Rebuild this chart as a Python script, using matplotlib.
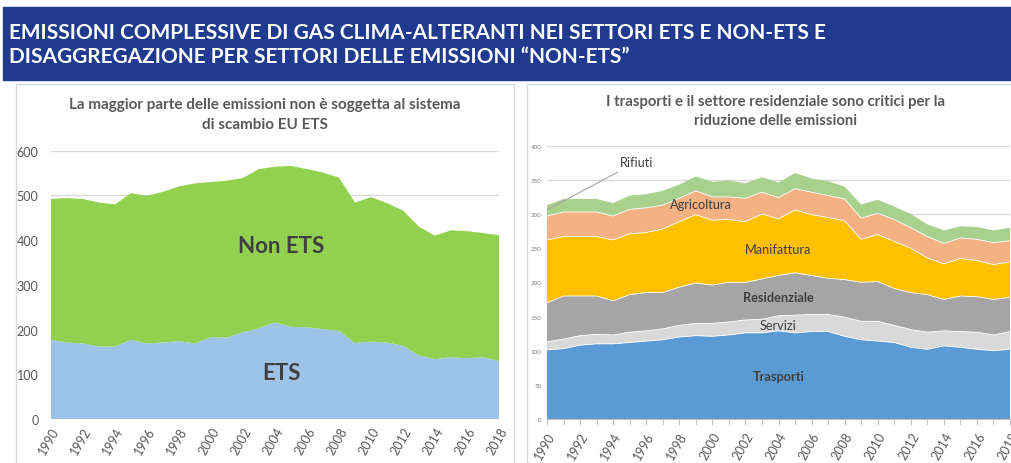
import numpy as np
import matplotlib.pyplot as plt
from matplotlib.patches import Rectangle

plt.rcParams['font.family'] = ['Lato', 'DejaVu Sans']

# --- Data ---
years = np.arange(1990, 2019)
year_ticks = np.arange(1990, 2019, 2)

# left panel: ETS vs non-ETS (Mt CO2eq)
ets = [177, 171, 169, 162, 162, 177, 169, 171, 174, 169, 183, 182, 194, 203, 216,
       206, 205, 201, 197, 170, 173, 171, 164, 142, 134, 138, 136, 138, 130]
non_ets = [315, 323, 323, 322, 318, 328, 330, 337, 346, 358, 347, 351, 345, 356, 348,
           360, 354, 350, 343, 314, 323, 312, 302, 288, 276, 284, 284, 278, 281]

# right panel: non-ETS by sector
sectors = ["Trasporti", "Servizi", "Residenziale", "Manifattura", "Agricoltura", "Rifiuti"]
trasporti = [101, 103, 108, 110, 110, 112, 114, 116, 120, 122, 121, 123, 126, 126, 129,
             126, 128, 128, 121, 116, 114, 112, 105, 102, 107, 105, 102, 100, 102]
servizi = [12, 14, 14, 14, 13, 15, 15, 16, 17, 18, 19, 19, 19, 20, 22,
           26, 25, 25, 28, 27, 29, 25, 26, 25, 22, 23, 25, 23, 26]
residenziale = [57, 63, 58, 56, 50, 55, 56, 53, 56, 59, 56, 58, 55, 59, 59,
                62, 57, 53, 55, 57, 58, 54, 54, 55, 46, 52, 52, 52, 50]
manifattura = [92, 87, 87, 87, 89, 89, 88, 93, 96, 100, 95, 92, 89, 95, 83,
               92, 89, 89, 86, 63, 69, 69, 65, 54, 52, 55, 53, 51, 52]
agricoltura = [35, 36, 36, 36, 35, 36, 36, 35, 34, 35, 34, 33, 34, 32, 31,
               31, 33, 32, 32, 31, 31, 32, 30, 31, 30, 30, 31, 32, 31]
rifiuti = [16, 19, 19, 19, 19, 20, 20, 21, 20, 21, 22, 24, 22, 22, 22,
           23, 20, 21, 18, 20, 20, 19, 20, 18, 19, 17, 18, 18, 19]
sector_colors = ['#5b9bd5', '#d9d9d9', '#a5a5a5', '#ffc000', '#f4b183', '#a9d18e']

W, H = 1011, 464
fig = plt.figure(figsize=(W / 100, H / 100), dpi=100)

def fx(px):
    return px / W

def fy(py):
    return 1 - py / H

# header banner
fig.patches.append(Rectangle((fx(3), fy(81)), 1 - fx(3), (81 - 8) / H,
                             transform=fig.transFigure, color='#203a90', zorder=-1))
fig.text(fx(9), fy(33), "EMISSIONI COMPLESSIVE DI GAS CLIMA-ALTERANTI NEI SETTORI ETS E NON-ETS E",
         color='white', fontsize=15, fontweight='bold', va='center', ha='left')
fig.text(fx(9), fy(57), "DISAGGREGAZIONE PER SETTORI DELLE EMISSIONI \u201cNON-ETS\u201d",
         color='white', fontsize=15, fontweight='bold', va='center', ha='left')

# panel frames
for x0, x1 in [(16, 514), (527, 1015)]:
    fig.patches.append(Rectangle((fx(x0), fy(470)), fx(x1 - x0), (470 - 85) / H,
                                 transform=fig.transFigure, facecolor='white',
                                 edgecolor='#d9d9d9', lw=1, zorder=-1))

fig.text(fx(265), fy(105), "La maggior parte delle emissioni non è soggetta al sistema",
         ha='center', va='center', fontsize=11, fontweight='bold', color='#595959')
fig.text(fx(265), fy(125), "di scambio EU ETS",
         ha='center', va='center', fontsize=11, fontweight='bold', color='#595959')
fig.text(fx(776), fy(102), "I trasporti e il settore residenziale sono critici per la",
         ha='center', va='center', fontsize=10.7, fontweight='bold', color='#595959')
fig.text(fx(776), fy(121), "riduzione delle emissioni",
         ha='center', va='center', fontsize=10.7, fontweight='bold', color='#595959')

# --- left chart ---
ax1 = fig.add_axes([fx(51), 1 - 420 / H, fx(448), (420 - 151.7) / H])
ax1.stackplot(years, ets, non_ets, colors=['#9dc3e6', '#92d050'], lw=0)
ax1.set_xlim(1990, 2018)
ax1.set_ylim(0, 600)
ax1.set_yticks(range(0, 601, 100))
ax1.set_xticks(year_ticks)
ax1.grid(axis='y', color='#d9d9d9', lw=1)
ax1.set_axisbelow(True)
for s in ax1.spines.values():
    s.set_visible(False)
ax1.tick_params(axis='y', length=0, pad=9, labelsize=9, labelcolor='#595959')
ax1.tick_params(axis='x', length=0, pad=4, labelsize=9, labelcolor='#595959')
plt.setp(ax1.get_xticklabels(), rotation=60, ha='right', rotation_mode='anchor')
ax1.text(2004.4, 388, "Non ETS", ha='center', va='center', fontsize=16,
         fontweight='bold', color='#404040')
ax1.text(2004.4, 105, "ETS", ha='center', va='center', fontsize=16,
         fontweight='bold', color='#404040')

# --- right chart ---
ax2 = fig.add_axes([fx(547), 1 - 420 / H, fx(463), (420 - 146.7) / H])
layers = [trasporti, servizi, residenziale, manifattura, agricoltura, rifiuti]
ax2.stackplot(years, *layers, colors=sector_colors, lw=0)
tops = np.cumsum(np.array(layers), axis=0)
for t in tops[:-1]:
    ax2.plot(years, t, color='white', lw=0.6)
ax2.set_xlim(1990, 2018)
ax2.set_ylim(0, 400)
ax2.set_yticks(range(0, 401, 50))
ax2.set_xticks(years, minor=True)
ax2.set_xticks(year_ticks)
ax2.grid(axis='y', color='#d9d9d9', lw=1)
ax2.set_axisbelow(True)
for k, s in ax2.spines.items():
    s.set_visible(k == 'bottom')
ax2.spines['bottom'].set_color('#bfbfbf')
ax2.tick_params(axis='y', length=0, pad=4, labelsize=4.5, labelcolor='#7f7f7f')
ax2.tick_params(axis='x', which='both', length=4, color='#bfbfbf', pad=4,
                labelsize=9, labelcolor='#595959')
plt.setp(ax2.get_xticklabels(), rotation=60, ha='right', rotation_mode='anchor')

lab = dict(ha='center', va='center', fontsize=9.2, color='#404040')
ax2.annotate("Rifiuti", xy=(1990, 306), xytext=(1994.4, 376), fontsize=9.2,
             color='#404040', va='center', ha='left',
             arrowprops=dict(arrowstyle='-', color='#a6a6a6', lw=0.8,
                             shrinkA=2, shrinkB=0))
ax2.text(1999.3, 314, "Agricoltura", **lab)
ax2.text(2004, 249, "Manifattura", **lab)
ax2.text(2004, 178, "Residenziale", fontweight='bold', **lab)
ax2.text(2004, 138, "Servizi", **lab)
ax2.text(2004, 63, "Trasporti", fontweight='bold', **lab)

fig.savefig("out.png", dpi=100)
